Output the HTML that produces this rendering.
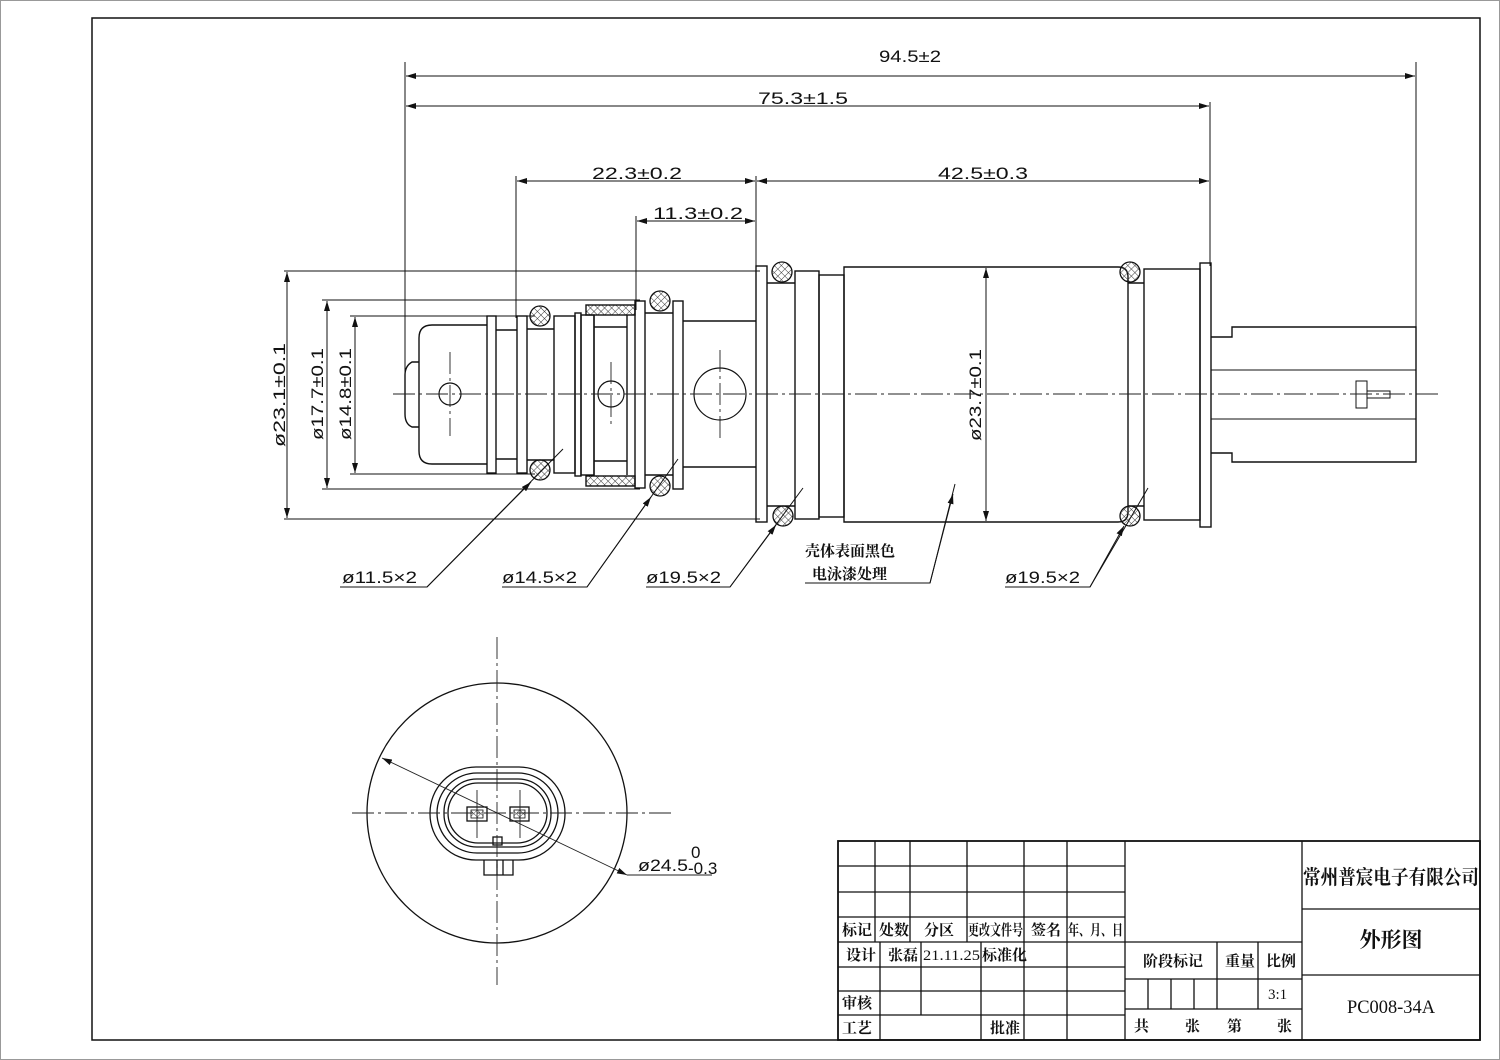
<!DOCTYPE html>
<html><head><meta charset="utf-8"><style>
html,body{margin:0;padding:0;background:#fff}
svg{display:block}
.d{font-family:"Liberation Sans","Noto Sans CJK SC",sans-serif;font-size:17px;fill:#111}
.c{font-family:"Liberation Serif","Noto Serif CJK SC","Noto Sans CJK SC",serif;font-size:15px;font-weight:bold;fill:#111}
</style></head><body>
<svg width="1500" height="1060" viewBox="0 0 1500 1060" xmlns="http://www.w3.org/2000/svg">
<defs>
<pattern id="h" width="5" height="5" patternUnits="userSpaceOnUse" patternTransform="rotate(45)">
<path d="M0 0V5M0 0H5" stroke="#333" stroke-width="0.9"/></pattern>
<marker id="a" viewBox="0 0 10 6" refX="10" refY="3" markerWidth="10" markerHeight="6" orient="auto-start-reverse" markerUnits="userSpaceOnUse"><path d="M0 0L10 3L0 6z" fill="#111"/></marker>
</defs>
<rect x="0.5" y="0.5" width="1499" height="1059" fill="none" stroke="#999"/>
<rect x="92" y="18" width="1388" height="1022" fill="none" stroke="#111" stroke-width="1.5"/>

<g stroke="#111" stroke-width="1" fill="none">
<!-- extension lines -->
<path d="M405 62V392M1416 62V330M1210 102V266M516 176V318M636 216V310M756 176V268"/>
<path d="M284 271H760M322 300H640M350 316H535M322 489H640M350 474H535M284 519H760"/>
<!-- dimension lines -->
<g marker-start="url(#a)" marker-end="url(#a)">
<path d="M406 76H1415"/><path d="M406 106H1209"/><path d="M517 181H755"/><path d="M757 181H1209"/><path d="M637 221H755"/>
<path d="M287 272V518"/><path d="M327 301V488"/><path d="M355 317V473"/><path d="M986 268V521"/>
</g>
</g>
<text class="d" x="910" y="62" text-anchor="middle" textLength="62" lengthAdjust="spacingAndGlyphs">94.5±2</text>
<text class="d" x="803" y="104" text-anchor="middle" textLength="90" lengthAdjust="spacingAndGlyphs">75.3±1.5</text>
<text class="d" x="637" y="179" text-anchor="middle" textLength="90" lengthAdjust="spacingAndGlyphs">22.3±0.2</text>
<text class="d" x="983" y="179" text-anchor="middle" textLength="90" lengthAdjust="spacingAndGlyphs">42.5±0.3</text>
<text class="d" x="698" y="219" text-anchor="middle" textLength="90" lengthAdjust="spacingAndGlyphs">11.3±0.2</text>
<text class="d" transform="translate(285,395) rotate(-90)" text-anchor="middle" textLength="104" lengthAdjust="spacingAndGlyphs">ø23.1±0.1</text>
<text class="d" transform="translate(323,394) rotate(-90)" text-anchor="middle" textLength="92" lengthAdjust="spacingAndGlyphs">ø17.7±0.1</text>
<text class="d" transform="translate(351,394) rotate(-90)" text-anchor="middle" textLength="92" lengthAdjust="spacingAndGlyphs">ø14.8±0.1</text>
<text class="d" transform="translate(981,395) rotate(-90)" text-anchor="middle" textLength="92" lengthAdjust="spacingAndGlyphs">ø23.7±0.1</text>

<!-- part -->
<g stroke="#111" stroke-width="1.4" fill="none">
<path d="M487 325H432Q419 325 419 338V451Q419 464 432 464H487"/>
<path d="M419 362H412Q405 366 405 375V414Q405 424 412 427H419"/>
<rect x="487" y="316" width="9" height="157"/>
<path d="M496 330H517M496 459H517"/>
<rect x="517" y="316" width="10" height="157"/>
<path d="M527 329H554M527 460H554"/>
<rect x="554" y="316" width="21" height="157"/>
<rect x="575" y="313" width="6" height="163"/>
<rect x="581" y="315" width="13" height="160"/>
<rect x="586" y="305" width="49" height="10" fill="url(#h)"/>
<rect x="586" y="476" width="49" height="10" fill="url(#h)"/>
<path d="M594 315V475M627 315V475M594 327H627M594 461H627"/>
<rect x="635" y="301" width="10" height="187"/>
<path d="M645 313H673M645 475H673"/>
<rect x="673" y="301" width="10" height="188"/>
<path d="M683 321H756M683 467H756"/>
<rect x="756" y="266" width="11" height="256"/>
<path d="M767 283H795M767 506H795"/>
<rect x="795" y="271" width="24" height="248"/>
<rect x="819" y="275" width="25" height="242"/>
<path d="M844 267H1118Q1128 267 1128 277V512Q1128 522 1118 522H844Z"/>
<path d="M1128 283H1144M1128 506H1144"/>
<rect x="1144" y="269" width="56" height="251"/>
<rect x="1200" y="263" width="11" height="264"/>
<path d="M1211 337H1232V327H1416V462H1232V453H1211"/>
<path d="M1211 370H1416M1211 419H1416" stroke-width="1.1"/>
<rect x="1356" y="381" width="11" height="27" stroke-width="1"/>
<rect x="1367" y="391" width="23" height="7" stroke-width="1"/>
</g>
<!-- holes -->
<g stroke="#111" stroke-width="1.2" fill="none">
<circle cx="450" cy="394" r="11"/><circle cx="611" cy="394" r="13"/><circle cx="720" cy="394" r="26"/>
</g>
<!-- o-rings -->
<g stroke="#111" stroke-width="1.3" fill="url(#h)">
<circle cx="540" cy="316" r="10"/><circle cx="540" cy="470" r="10"/>
<circle cx="660" cy="301" r="10"/><circle cx="660" cy="486" r="10"/>
<circle cx="782" cy="272" r="10"/><circle cx="783" cy="516" r="10"/>
<circle cx="1130" cy="272" r="10"/><circle cx="1130" cy="516" r="10"/>
</g>
<!-- centerlines -->
<g stroke="#222" stroke-width="0.9" stroke-dasharray="22 4 3 4" fill="none">
<path d="M393 394H1442"/><path d="M450 352V436"/><path d="M611 362V426"/><path d="M720 350V438"/>
</g>

<!-- leaders -->
<g stroke="#111" stroke-width="1" fill="none">
<path d="M340 587H427L563 449"/><path d="M427 587L531 482" marker-end="url(#a)"/>
<path d="M502 587H587L678 459"/><path d="M587 587L651 497" marker-end="url(#a)"/>
<path d="M646 587H730L803 488"/><path d="M730 587L776 525" marker-end="url(#a)"/>
<path d="M805 583H930L955 484"/><path d="M930 583L953 494" marker-end="url(#a)"/>
<path d="M1005 587H1090L1148 488"/><path d="M1090 587L1124 526" marker-end="url(#a)"/>
</g>
<text class="d" x="342" y="583" textLength="75" lengthAdjust="spacingAndGlyphs">ø11.5×2</text>
<text class="d" x="502" y="583" textLength="75" lengthAdjust="spacingAndGlyphs">ø14.5×2</text>
<text class="d" x="646" y="583" textLength="75" lengthAdjust="spacingAndGlyphs">ø19.5×2</text>
<text class="d" x="1005" y="583" textLength="75" lengthAdjust="spacingAndGlyphs">ø19.5×2</text>
<text class="c" x="805" y="556" font-size="16">壳体表面黑色</text>
<text class="c" x="812" y="579" font-size="16">电泳漆处理</text>

<!-- end view -->
<g stroke="#111" stroke-width="1.3" fill="none">
<circle cx="497" cy="813" r="130"/>
<rect x="430" y="767" width="135" height="93" rx="46"/>
<rect x="437" y="773" width="121" height="80" rx="40"/>
<rect x="444" y="779" width="107" height="68" rx="33"/>
<rect x="448" y="783" width="99" height="60" rx="30"/>
<rect x="467" y="807" width="20" height="14"/><rect x="510" y="807" width="19" height="14"/>
<rect x="471" y="810" width="12" height="8" fill="url(#h)" stroke-width="0.8"/><rect x="514" y="810" width="11" height="8" fill="url(#h)" stroke-width="0.8"/>
<rect x="493" y="837" width="9" height="8"/>
<path d="M484 860V875H513V860M497 860V875M503 860V875"/>
</g>
<g stroke="#222" stroke-width="0.9" fill="none">
<path d="M497 637V985M352 813H675" stroke-dasharray="22 4 3 4"/>
<path d="M477 790V838M520 790V838"/>
<path d="M382 758L627 875" marker-start="url(#a)" marker-end="url(#a)"/>
<path d="M627 875H712"/>
</g>
<text class="d" x="638" y="871" textLength="50" lengthAdjust="spacingAndGlyphs">ø24.5</text>
<text class="d" x="691" y="858" font-size="11">0</text>
<text class="d" x="688" y="874" font-size="11">-0.3</text>

<!-- title block -->
<g stroke="#111" stroke-width="1.3" fill="none">
<rect x="838" y="841" width="642" height="199" stroke-width="1.8"/>
<path d="M1125 841V1040M1302 841V1040"/>
<path d="M838 866H1125M838 892H1125M838 917H1125M838 942H1302M838 967H1125M838 991H1125M838 1015H1125"/>
<path d="M875 841V942M910 841V942M967 841V942M1024 841V942M1067 841V942"/>
<path d="M880 942V1040M921 942V1015M981 942V1040M1024 942V1040M1067 942V1040"/>
<path d="M1125 979H1302M1125 1009H1302M1217 942V1009M1258 942V1009M1148 979V1009M1171 979V1009M1194 979V1009"/>
<path d="M1302 909H1480M1302 975H1480"/>
</g>
<g class="c">
<text x="842" y="935">标记</text><text x="879" y="935">处数</text><text x="924" y="935">分区</text>
<text x="968" y="935" textLength="55" lengthAdjust="spacingAndGlyphs">更改文件号</text><text x="1031" y="935">签名</text>
<text x="1068" y="935" textLength="55" lengthAdjust="spacingAndGlyphs">年、月、日</text>
<text x="846" y="960">设计</text><text x="888" y="960">张磊</text>
<text x="923" y="960" font-weight="normal" font-family="Liberation Serif" textLength="57" lengthAdjust="spacingAndGlyphs">21.11.25</text>
<text x="982" y="960">标准化</text>
<text x="842" y="1008">审核</text><text x="842" y="1033">工艺</text><text x="990" y="1033">批准</text>
<text x="1143" y="966">阶段标记</text><text x="1225" y="966">重量</text><text x="1266" y="966">比例</text>
<text x="1268" y="999" font-weight="normal" font-family="Liberation Serif">3:1</text>
<text x="1134" y="1031">共</text><text x="1185" y="1031">张</text><text x="1227" y="1031">第</text><text x="1277" y="1031">张</text>
<text x="1303" y="884" font-size="20" textLength="176" lengthAdjust="spacingAndGlyphs">常州普宸电子有限公司</text>
<text x="1391" y="947" font-size="21" text-anchor="middle">外形图</text>
<text x="1391" y="1013" font-size="19" font-weight="normal" text-anchor="middle" textLength="88" lengthAdjust="spacingAndGlyphs">PC008-34A</text>
</g>
</svg>
</body></html>
